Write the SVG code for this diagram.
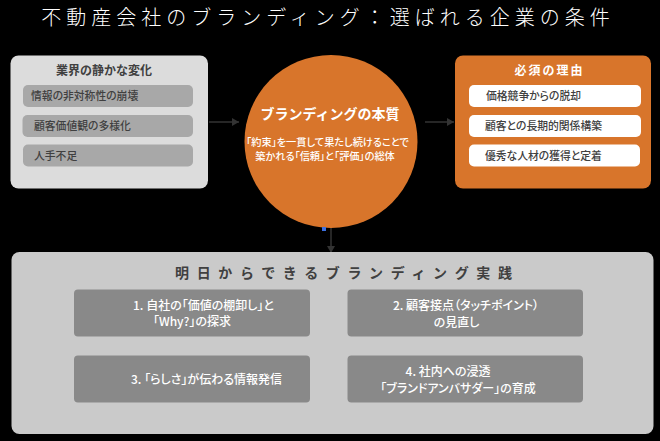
<svg xmlns="http://www.w3.org/2000/svg" width="660" height="441" viewBox="0 0 660 441">
<style>
text{font-family:"Noto Sans CJK JP","Noto Sans",sans-serif;text-anchor:middle}
.title{font-size:20px;font-weight:300;fill:#fff;letter-spacing:5px}
.head{font-size:12px;font-weight:700;fill:#404040}
.item{font-size:10.800px;font-weight:500;fill:#404040;text-anchor:start;font-feature-settings:"palt"}
.sub{fill:#a8a8a8}
.white{fill:#fff}
.act{fill:#898989}
.acttext{font-size:12px;font-weight:500;fill:#fff;font-feature-settings:"palt"}
.body{font-size:10.200px;font-weight:500;fill:#fff;font-feature-settings:"palt"}
.conn{stroke:#333;stroke-width:1.5;fill:none;marker-end:url(#arrow)}
</style>
<defs><marker id="arrow" markerUnits="userSpaceOnUse" markerWidth="8" markerHeight="8" refX="7" refY="4" orient="auto"><path d="M0 0L7 4L0 8Z" fill="#333"/></marker></defs>
<rect width="660" height="441" fill="#000"/>
<text class="title" x="328" y="25">不動産会社のブランディング：選ばれる企業の条件</text>
<g id="connectors">
<path class="conn" d="M209 122H239"/>
<path class="conn" d="M425 122H454"/>
<path class="conn" d="M331 224V253"/>
</g>
<g id="node-change">
<rect x="10.500" y="55.500" width="197.500" height="133" rx="8" fill="#dcdcdc"/>
<text class="head" x="104" y="75">業界の静かな変化</text>
<rect class="sub" x="23" y="85" width="170" height="22" rx="5"/>
<text class="item" x="31" y="100">情報の非対称性の崩壊</text>
<rect class="sub" x="22.500" y="115" width="170.500" height="22" rx="5"/>
<text class="item" x="34" y="130">顧客価値観の多様化</text>
<rect class="sub" x="23" y="144.500" width="170" height="22" rx="5"/>
<text class="item" x="34" y="160">人手不足</text>
</g>
<g id="node-essence">
<circle cx="331" cy="141.500" r="86.500" fill="#d8752b"/>
<text x="330" y="119" font-size="14" font-weight="700" fill="#fff">ブランディングの本質</text>
<text class="body" x="327.500" y="146">「約束」を一貫して果たし続けることで</text>
<text class="body" x="325" y="160">築かれる「信頼」と「評価」の総体</text>
</g>
<g id="node-reason">
<rect x="455" y="55.500" width="196" height="133" rx="8" fill="#d8752b"/>
<text x="549.500" y="75" font-size="12" font-weight="700" fill="#fff" letter-spacing="2">必須の理由</text>
<rect class="white" x="469" y="85" width="172" height="22" rx="5"/>
<text class="item" x="486" y="100">価格競争からの脱却</text>
<rect class="white" x="469" y="115" width="172" height="22" rx="5"/>
<text class="item" x="485" y="130">顧客との長期的関係構築</text>
<rect class="white" x="469" y="144.500" width="171" height="22" rx="5"/>
<text class="item" x="485" y="160">優秀な人材の獲得と定着</text>
</g>
<rect id="marker-dot" x="322" y="227" width="4" height="4" fill="#3b6fe0"/>
<g id="node-practice">
<rect x="11.500" y="252" width="642" height="182" rx="8" fill="#cacaca"/>
<text x="175" y="278" font-size="14" font-weight="700" fill="#404040" style="text-anchor:start" textLength="337" lengthAdjust="spacing">明日からできるブランディング実践</text>
</g>
<g id="node-step1">
<rect class="act" x="74" y="289.500" width="236" height="47" rx="4"/>
<text class="acttext" x="203.500" y="310">1. 自社の「価値の棚卸し」と</text>
<text class="acttext" x="192" y="326">「Why?」の探求</text>
</g>
<g id="node-step2">
<rect class="act" x="347.500" y="289.500" width="235.500" height="47" rx="4"/>
<text class="acttext" x="466" y="310">2. 顧客接点（タッチポイント）</text>
<text class="acttext" x="456.500" y="327">の見直し</text>
</g>
<g id="node-step3">
<rect class="act" x="74" y="355.500" width="236" height="47" rx="4"/>
<text class="acttext" x="206.500" y="384">3. 「らしさ」が伝わる情報発信</text>
</g>
<g id="node-step4">
<rect class="act" x="347.500" y="355.500" width="235.500" height="47" rx="4"/>
<text class="acttext" x="448" y="376">4. 社内への浸透</text>
<text class="acttext" x="458" y="393">「ブランドアンバサダー」の育成</text>
</g>
</svg>
